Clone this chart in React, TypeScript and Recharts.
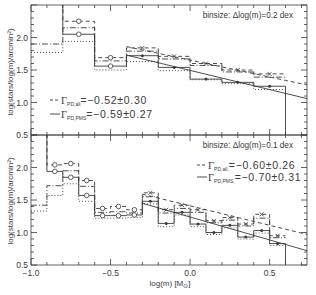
import React from "react";
import { ComposedChart, Line, Scatter, XAxis, YAxis } from "recharts";

// top panel, binsize 0.2 dex
const topEdges = [-1.0, -0.8, -0.6, -0.4, -0.2, 0.0, 0.2, 0.4, 0.6];
const topCenters = [-0.9, -0.7, -0.5, -0.3, -0.1, 0.1, 0.3, 0.5];
const topAll = [2.7, 2.25, 1.69, 1.84, 1.71, 1.6, 1.5, 1.44];
const topAllAlt = [1.9, 2.15, 1.64, 1.79, 1.67, 1.57, 1.47, 1.39];
const topPms = [2.7, 2.05, 1.56, 1.72, 1.54, 1.36, 1.31, 1.25];
const topPmsAlt = [1.77, 1.94, 1.5, 1.63, 1.49, 1.35, 1.29, 1.2];
const topFitX = [-0.4, 0.735];
const topFitAll = [1.86, 1.27];
const topFitPms = [1.73, 1.06];

// bottom panel, binsize 0.1 dex
const botEdges = [-1.0, -0.9, -0.8, -0.7, -0.6, -0.5, -0.4, -0.3, -0.2, -0.1, 0.0, 0.1, 0.2, 0.3, 0.4, 0.5, 0.6];
const botCenters = [-0.95, -0.85, -0.75, -0.65, -0.55, -0.45, -0.35, -0.25, -0.15, -0.05, 0.05, 0.15, 0.25, 0.35, 0.45, 0.55];
const botAll = [2.7, 2.04, 2.06, 1.8, 1.37, 1.4, 1.35, 1.61, 1.35, 1.42, 1.35, 1.18, 1.23, 1.13, 1.28, 0.95];
const botAllAlt = [1.42, 1.72, 1.95, 1.71, 1.31, 1.32, 1.3, 1.55, 1.3, 1.37, 1.31, 1.15, 1.19, 1.1, 1.22, 0.92];
const botPms = [2.7, 1.94, 1.85, 1.57, 1.26, 1.26, 1.27, 1.48, 1.14, 1.31, 1.13, 1.0, 1.11, 0.93, 1.03, 0.83];
const botPmsAlt = [1.33, 1.57, 1.75, 1.48, 1.22, 1.22, 1.23, 1.44, 1.09, 1.27, 1.09, 0.97, 1.07, 0.9, 0.99, 0.8];
const botFitX = [-0.3, 0.735];
const botFitAll = [1.59, 0.97];
const botFitPms = [1.45, 0.72];

const xTicks = [-1.0, -0.9, -0.8, -0.7, -0.6, -0.5, -0.4, -0.3, -0.2, -0.1, 0.0, 0.1, 0.2, 0.3, 0.4, 0.5, 0.6, 0.7];
const yTicks = [0.5, 0.6, 0.7, 0.8, 0.9, 1.0, 1.1, 1.2, 1.3, 1.4, 1.5, 1.6, 1.7, 1.8, 1.9, 2.0, 2.1, 2.2, 2.3, 2.4, 2.5];
const yLabels = [0.5, 1.0, 1.5, 2.0];

const INK = "#3a3a3a";
const FONT = "'Liberation Sans', Arial, sans-serif";

const isMajor = (v: number) => Math.abs(v * 2 - Math.round(v * 2)) < 1e-6;
const fmt = (v: number) => (v < -1e-9 ? "\u2212" : "") + Math.abs(v).toFixed(1);

function stepRows(edges: number[], all: number[], allAlt: number[], pms: number[], pmsAlt: number[]) {
  const rows = all.map((_, i) => ({ x: edges[i], all: all[i], allAlt: allAlt[i], pms: pms[i], pmsAlt: pmsAlt[i] }));
  const n = all.length - 1;
  // last edge: solid histogram falls to the axis
  rows.push({ x: edges[n + 1], all: all[n], allAlt: allAlt[n], pms: 0, pmsAlt: pmsAlt[n] });
  return rows;
}

const marks = (centers: number[], vals: number[]) =>
  centers.map((x, i) => ({ x, y: vals[i] })).filter((d) => d.y < 2.5);

const fitRows = (xs: number[], ys: number[]) => xs.map((x, i) => ({ x, y: ys[i] }));

function XTick(props: any) {
  const { x, y, payload, side, label } = props;
  const v = payload.value;
  const len = isMajor(v) ? 6 : 3;
  const dir = side === "bottom" ? -1 : 1;
  return (
    <g>
      <line x1={x} y1={y} x2={x} y2={y + dir * len} stroke={INK} strokeWidth={0.8} />
      {label && isMajor(v) && (
        <text x={x} y={y + 11} textAnchor="middle" fontSize={8.5} fontFamily={FONT} fill={INK}>
          {fmt(v)}
        </text>
      )}
    </g>
  );
}

function YTick(props: any) {
  const { x, y, payload, side } = props;
  const v = payload.value;
  const len = isMajor(v) ? 6 : 3;
  const dir = side === "left" ? 1 : -1;
  return (
    <g>
      <line x1={x} y1={y} x2={x + dir * len} y2={y} stroke={INK} strokeWidth={0.8} />
      {side === "left" && yLabels.some((l) => Math.abs(l - v) < 1e-6) && (
        <text x={x - 3} y={y + 3} textAnchor="end" fontSize={8.5} fontFamily={FONT} fill={INK}>
          {v.toFixed(1)}
        </text>
      )}
    </g>
  );
}

function Marker(props: any) {
  const { cx, cy, payload, cut, kind } = props;
  if (cx == null || cy == null) return null;
  if (payload.x < cut) {
    return <circle cx={cx} cy={cy} r={2.3} fill="#fff" stroke={INK} strokeWidth={0.8} />;
  }
  if (kind === "all") {
    return (
      <g stroke={INK} strokeWidth={0.8}>
        <line x1={cx - 2} y1={cy - 2} x2={cx + 2} y2={cy + 2} />
        <line x1={cx - 2} y1={cy + 2} x2={cx + 2} y2={cy - 2} />
      </g>
    );
  }
  return <circle cx={cx} cy={cy} r={1.5} fill={INK} />;
}

interface PanelProps {
  edges: number[];
  centers: number[];
  all: number[];
  allAlt: number[];
  pms: number[];
  pmsAlt: number[];
  fitX: number[];
  fitAll: number[];
  fitPms: number[];
  cut: number;
  height: number;
  bottomH: number;
  labels: boolean;
}

function Panel(p: PanelProps) {
  const rows = stepRows(p.edges, p.all, p.allAlt, p.pms, p.pmsAlt);
  const common = { xAxisId: "b", yAxisId: "l", isAnimationActive: false } as const;
  return (
    <ComposedChart width={316} height={p.height} data={rows} margin={{ top: 0, right: 0, bottom: 0, left: 0 }}>
      <XAxis
        xAxisId="b"
        dataKey="x"
        type="number"
        domain={[-1.0, 0.735]}
        allowDataOverflow
        ticks={xTicks}
        interval={0}
        height={p.bottomH}
        tickSize={0}
        tickMargin={0}
        tickLine={false}
        axisLine={{ stroke: INK, strokeWidth: 0.8 }}
        tick={(t: any) => <XTick {...t} side="bottom" label={p.labels} />}
      />
      <XAxis
        xAxisId="t"
        dataKey="x"
        orientation="top"
        type="number"
        domain={[-1.0, 0.735]}
        allowDataOverflow
        ticks={xTicks}
        interval={0}
        height={5}
        tickSize={0}
        tickMargin={0}
        tickLine={false}
        axisLine={{ stroke: INK, strokeWidth: 0.8 }}
        tick={(t: any) => <XTick {...t} side="top" label={false} />}
      />
      <YAxis
        yAxisId="l"
        type="number"
        domain={[0.5, 2.5]}
        allowDataOverflow
        ticks={yTicks}
        interval={0}
        width={31}
        tickSize={0}
        tickMargin={0}
        tickLine={false}
        axisLine={{ stroke: INK, strokeWidth: 0.8 }}
        tick={(t: any) => <YTick {...t} side="left" />}
      />
      <YAxis
        yAxisId="r"
        orientation="right"
        type="number"
        domain={[0.5, 2.5]}
        allowDataOverflow
        ticks={yTicks}
        interval={0}
        width={9}
        tickSize={0}
        tickMargin={0}
        tickLine={false}
        axisLine={{ stroke: INK, strokeWidth: 0.8 }}
        tick={(t: any) => <YTick {...t} side="right" />}
      />
      <Line {...common} type="stepAfter" dataKey="pmsAlt" stroke={INK} strokeWidth={0.9} strokeDasharray="1 2" dot={false} />
      <Line {...common} type="stepAfter" dataKey="allAlt" stroke={INK} strokeWidth={0.9} strokeDasharray="6 2 1 2" dot={false} />
      <Line {...common} type="stepAfter" dataKey="all" stroke={INK} strokeWidth={0.9} strokeDasharray="4 3" dot={false} />
      <Line {...common} type="stepAfter" dataKey="pms" stroke={INK} strokeWidth={0.9} dot={false} />
      <Line {...common} data={fitRows(p.fitX, p.fitAll)} type="linear" dataKey="y" stroke={INK} strokeWidth={0.9} strokeDasharray="4 3" dot={false} />
      <Line {...common} data={fitRows(p.fitX, p.fitPms)} type="linear" dataKey="y" stroke={INK} strokeWidth={0.9} dot={false} />
      <Scatter {...common} data={marks(p.centers, p.all)} dataKey="y" shape={(s: any) => <Marker {...s} cut={p.cut} kind="all" />} />
      <Scatter {...common} data={marks(p.centers, p.pms)} dataKey="y" shape={(s: any) => <Marker {...s} cut={p.cut} kind="pms" />} />
    </ComposedChart>
  );
}

function Legend({ x, y, sub, value, dashed }: { x: number; y: number; sub: string; value: string; dashed: boolean }) {
  return (
    <g>
      <line x1={x} y1={y - 4} x2={x + 10} y2={y - 4} stroke={INK} strokeWidth={0.9} strokeDasharray={dashed ? "3 2" : undefined} />
      <text x={x + 11} y={y} fill={INK} fontFamily="'Liberation Serif', serif" fontSize={10.5}>
        {"\u0393"}
        <tspan fontFamily={FONT} fontSize={5} dy={2}>{sub}</tspan>
        <tspan fontFamily={FONT} fontSize={10.5} letterSpacing={0.7} dy={-2}>{value}</tspan>
      </text>
    </g>
  );
}

export default function App() {
  return (
    <div style={{ position: "absolute", left: 0, top: 0, width: 316, height: 295, background: "#fff" }}>
      <div style={{ position: "absolute", left: 0, top: 0 }}>
        <Panel
          edges={topEdges}
          centers={topCenters}
          all={topAll}
          allAlt={topAllAlt}
          pms={topPms}
          pmsAlt={topPmsAlt}
          fitX={topFitX}
          fitAll={topFitAll}
          fitPms={topFitPms}
          cut={-0.4}
          height={140}
          bottomH={5}
          labels={false}
        />
      </div>
      <div style={{ position: "absolute", left: 0, top: 130 }}>
        <Panel
          edges={botEdges}
          centers={botCenters}
          all={botAll}
          allAlt={botAllAlt}
          pms={botPms}
          pmsAlt={botPmsAlt}
          fitX={botFitX}
          fitAll={botFitAll}
          fitPms={botFitPms}
          cut={-0.3}
          height={165}
          bottomH={30}
          labels={true}
        />
      </div>
      <svg width={316} height={295} style={{ position: "absolute", left: 0, top: 0, pointerEvents: "none" }}>
        <text x={293} y={18} textAnchor="end" fontSize={8.2} fontFamily={FONT} fill={INK}>
          binsize: {"\u0394"}log(m)=0.2 dex
        </text>
        <text x={293} y={148} textAnchor="end" fontSize={8.2} fontFamily={FONT} fill={INK}>
          binsize: {"\u0394"}log(m)=0.1 dex
        </text>
        <Legend x={50} y={104} sub="PD,all" value={"=\u22120.52\u00b10.30"} dashed />
        <Legend x={50} y={118} sub="PD,PMS" value={"=\u22120.59\u00b10.27"} dashed={false} />
        <Legend x={197} y={169} sub="PD,all," value={"=\u22120.60\u00b10.26"} dashed />
        <Legend x={197} y={181} sub="PD,PMS," value={"=\u22120.70\u00b10.31"} dashed={false} />
        <text x={170} y={286} textAnchor="middle" fontSize={8} fontFamily={FONT} fill={INK}>
          log(m) [M<tspan fontSize={5.5} dy={2}>{"\u2299"}</tspan><tspan dy={-2}>]</tspan>
        </text>
        <text transform="translate(13,72) rotate(-90)" textAnchor="middle" fontSize={8} fontFamily={FONT} fill={INK}>
          log(stars/log(m)/arcmin²)
        </text>
        <text transform="translate(13,201) rotate(-90)" textAnchor="middle" fontSize={8} fontFamily={FONT} fill={INK}>
          log(stars/log(m)/arcmin²)
        </text>
      </svg>
    </div>
  );
}
